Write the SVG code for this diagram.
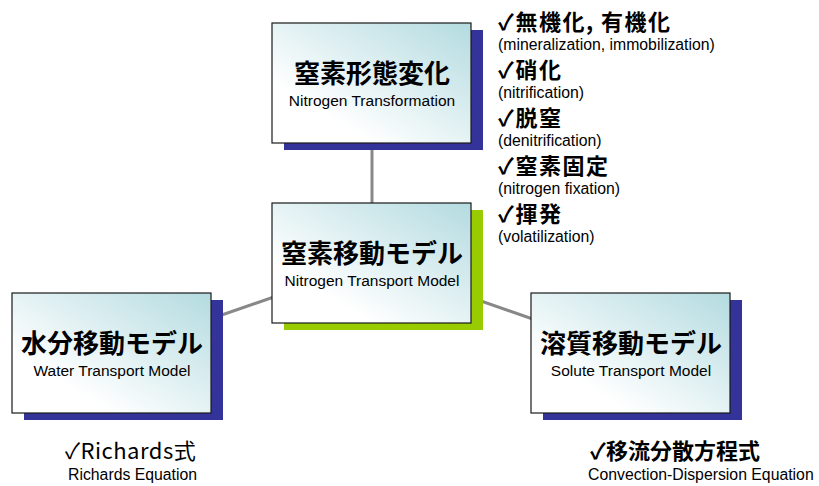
<svg xmlns="http://www.w3.org/2000/svg" width="819" height="486" viewBox="0 0 819 486">
<defs>
<linearGradient id="g" x1="1" y1="0" x2="0" y2="1">
<stop offset="0" stop-color="#b3dbe0"/>
<stop offset="0.75" stop-color="#ffffff"/>
</linearGradient>
<style>
.box{fill:url(#g);stroke:#1a1a1a;stroke-width:1.2}
.sh{fill:#333399}
.shg{fill:#99cc00}
.t{font-family:"Noto Sans CJK JP","Liberation Sans",sans-serif;font-weight:bold;font-size:26px;text-anchor:middle;fill:#000}
.s{font-family:"Liberation Sans",Arial,sans-serif;font-size:15.5px;text-anchor:middle;fill:#000}
.h{font-family:"Noto Sans CJK JP",sans-serif;font-weight:bold;font-size:22px;letter-spacing:1.5px;fill:#000}
.d{font-family:"Liberation Sans",Arial,sans-serif;font-size:15.8px;fill:#000}
.c{stroke:#888;stroke-width:3;fill:none}
</style>
</defs>
<rect width="819" height="486" fill="#fff"/>
<g id="connectors">
<line class="c" x1="372" y1="83" x2="372" y2="263"/>
<line class="c" x1="372" y1="263" x2="112" y2="353"/>
<line class="c" x1="372" y1="263" x2="630" y2="353"/>
</g>
<g id="n-transformation">
<rect class="sh" x="284" y="30" width="199" height="120"/>
<rect class="box" x="272" y="23" width="199" height="120"/>
<text class="t" x="372" y="83">窒素形態変化</text>
<text class="s" x="372" y="106">Nitrogen Transformation</text>
</g>
<g id="n-transport">
<rect class="shg" x="284" y="210" width="199" height="120"/>
<rect class="box" x="272" y="203" width="199" height="120"/>
<text class="t" x="372" y="263">窒素移動モデル</text>
<text class="s" x="372" y="286">Nitrogen Transport Model</text>
</g>
<g id="water">
<rect class="sh" x="24" y="300" width="199" height="120"/>
<rect class="box" x="12" y="293" width="199" height="120"/>
<text class="t" x="112" y="353">水分移動モデル</text>
<text class="s" x="112" y="376">Water Transport Model</text>
</g>
<g id="solute">
<rect class="sh" x="543" y="300" width="199" height="120"/>
<rect class="box" x="531" y="293" width="199" height="120"/>
<text class="t" x="631" y="353">溶質移動モデル</text>
<text class="s" x="631" y="376">Solute Transport Model</text>
</g>
<g id="process-list">
<text class="h" x="498" y="30">✓無機化, 有機化</text>
<text class="d" x="498" y="50">(mineralization, immobilization)</text>
<text class="h" x="498" y="78">✓硝化</text>
<text class="d" x="498" y="98">(nitrification)</text>
<text class="h" x="498" y="126">✓脱窒</text>
<text class="d" x="498" y="146">(denitrification)</text>
<text class="h" x="498" y="174">✓窒素固定</text>
<text class="d" x="498" y="194">(nitrogen fixation)</text>
<text class="h" x="498" y="222">✓揮発</text>
<text class="d" x="498" y="242">(volatilization)</text>
</g>
<g id="richards">
<text class="h" x="65" y="459" style="font-size:22px;font-weight:normal;letter-spacing:0.5px">✓Richards式</text>
<text class="d" x="68" y="480">Richards Equation</text>
</g>
<g id="cde">
<text class="h" x="590" y="459" style="font-size:22px;letter-spacing:0">✓移流分散方程式</text>
<text class="d" x="588" y="480">Convection-Dispersion Equation</text>
</g>
</svg>
